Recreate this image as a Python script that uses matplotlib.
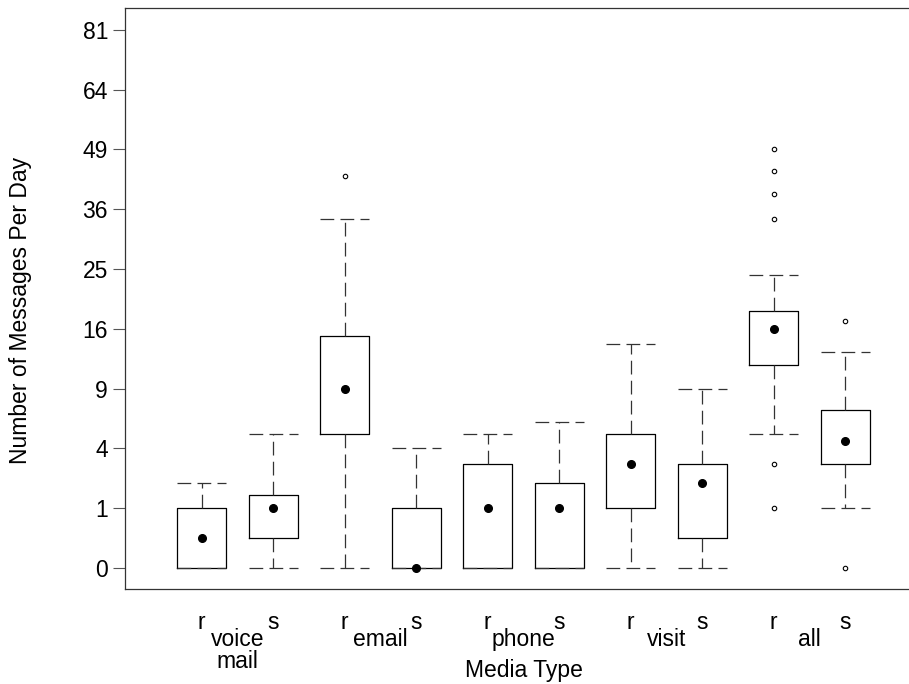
import numpy as np
import matplotlib
matplotlib.use("Agg")
import matplotlib.pyplot as plt

plt.rcParams['font.family'] = ['Liberation Sans', 'DejaVu Sans']

# media types, each with a received (r) and sent (s) box
groups = ["voice\nmail", "email", "phone", "visit", "all"]
sub_labels = ["r", "s"] * 5

# five-number summaries (messages per day)
whislo = [0, 0, 0, 0, 0, 0, 0, 0, 5, 1]
q1 = [0, 0.25, 5, 0, 0, 0, 1, 0.25, 11.5, 3]
med = [0.25, 1, 9, 0, 1, 1, 3, 2, 16, 4.5]
q3 = [1, 1.5, 15, 1, 3, 2, 5, 3, 18.5, 7]
whishi = [2, 5, 34, 4, 5, 6, 14, 9, 24, 13]
fliers = [[], [], [43], [], [], [], [], [], [1, 3, 34, 39, 44, 49], [0, 17]]

yticks = [0, 1, 4, 9, 16, 25, 36, 49, 64, 81]
FS = 16.5


def fwd(x):
    return np.sign(x) * np.sqrt(np.abs(x))


def inv(y):
    return np.sign(y) * y ** 2


fig = plt.figure(figsize=(9.09, 6.84), dpi=100)
ax = fig.add_axes([125 / 909, 1 - 589 / 684, 1 - 125 / 909, (589 - 8) / 684])
ax.set_yscale('function', functions=(fwd, inv))

pos = np.arange(1, len(med) + 1)
stats = [dict(whislo=whislo[i], q1=q1[i], med=med[i], q3=q3[i],
              whishi=whishi[i], fliers=fliers[i]) for i in range(len(med))]

dash = (0, (11, 5))
ax.bxp(stats, positions=pos, widths=0.686, capwidths=0.686,
       boxprops=dict(color='black', lw=0.9),
       whiskerprops=dict(color='#333333', lw=0.9, linestyle=dash),
       capprops=dict(color='#333333', lw=0.9, linestyle=dash),
       medianprops=dict(lw=0),
       flierprops=dict(marker='o', markersize=3.2, markerfacecolor='none',
                       markeredgecolor='black', markeredgewidth=0.8))
ax.plot(pos, med, 'o', color='black', markersize=5.5, zorder=5)

ax.set_ylim(inv(-0.351), inv(9.363))
ax.set_xlim(-0.073, 10.895)
ax.set_yticks(yticks)
ax.set_yticklabels([str(v) for v in yticks])
ax.minorticks_off()
ax.tick_params(axis='y', length=8.6, width=0.8, color='#555555', pad=3.6,
               labelsize=FS)
ax.set_xticks([])
ax.spines['right'].set_visible(False)
for s in ['left', 'bottom', 'top']:
    ax.spines[s].set_color('#333333')
    ax.spines[s].set_linewidth(0.9)

# r / s labels under each box, group label between each pair
for p, lab in zip(pos, sub_labels):
    x = ax.transData.transform((p, 0))[0] / 909
    fig.text(x, 1 - 629 / 684, lab, ha='center', va='baseline', fontsize=FS)
for i, g in enumerate(groups):
    xm = ax.transData.transform((pos[2 * i] + 0.5, 0))[0] / 909
    for k, line in enumerate(g.split("\n")):
        fig.text(xm, 1 - (646 + 22 * k) / 684, line, ha='center',
                 va='baseline', fontsize=FS)

fig.text(524 / 909, 1 - 677 / 684, "Media Type", ha='center', va='baseline',
         fontsize=FS)
fig.text(21 / 909, 1 - 310 / 684, "Number of Messages Per Day", rotation=90,
         ha='center', va='center', fontsize=FS)

fig.savefig("out.png", dpi=100)
